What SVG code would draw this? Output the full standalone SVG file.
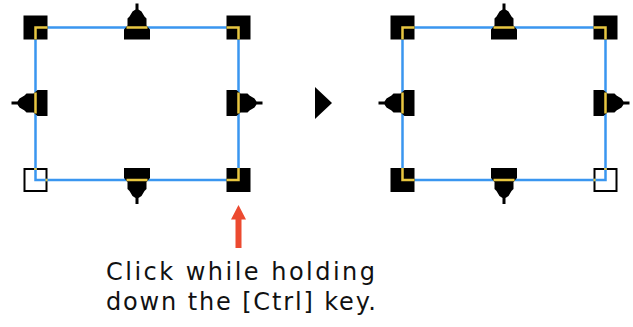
<svg xmlns="http://www.w3.org/2000/svg" xmlns:xlink="http://www.w3.org/1999/xlink" width="633" height="327" viewBox="0 0 633 327">
<style>
.frame{fill:none;stroke:#3a96f0;stroke-width:2.5}
.blk{fill:#000}
.open{fill:#fff;stroke:#000;stroke-width:2}
.yl{fill:none;stroke:#e8c640;stroke-width:2.5}
.ydot{fill:#e8c640}
.lbl{font-family:"DejaVu Sans","Liberation Sans",sans-serif;font-size:24px;fill:#111}
</style>
<defs>
<g id="handle">
<path class="blk" d="M-1.5,-24 H1.5 V-18 L4.5,-16 L7.5,-11 L9.5,-9 L9.5,-2 L13,2 V12 H-13 V2 L-9.5,-2 V-9 L-7.5,-11 L-4.5,-16 L-1.5,-18 Z"/>
<line class="yl" x1="-10.5" y1="0" x2="10.5" y2="0"/>
</g>
</defs>

<g id="before">
  <rect class="open" x="24.5" y="169" width="22" height="22"/>
  <rect class="frame" x="35.5" y="27.5" width="203" height="152.5"/>
  <g id="b-tl"><rect class="blk" x="23.5" y="15.5" width="24" height="24"/><polyline class="yl" points="47.5,27.5 35.5,27.5 35.5,39.5"/></g>
  <g id="b-tr"><rect class="blk" x="226.5" y="15.5" width="24" height="24"/><polyline class="yl" points="226.5,27.5 238.5,27.5 238.5,39.5"/></g>
  <g id="b-br"><rect class="blk" x="226.5" y="168" width="24" height="24"/><polyline class="yl" points="226.5,180 238.5,180 238.5,168"/></g>
  <g id="b-bl"><rect class="ydot" x="34.3" y="168" width="2.4" height="2"/><rect class="ydot" x="45.5" y="178.8" width="2" height="2.4"/></g>
  <use id="b-top" xlink:href="#handle" transform="translate(137,27.5)"/>
  <use id="b-bottom" xlink:href="#handle" transform="translate(137,180) rotate(180)"/>
  <use id="b-left" xlink:href="#handle" transform="translate(35.5,103) rotate(-90)"/>
  <use id="b-right" xlink:href="#handle" transform="translate(238.5,103) rotate(90)"/>
</g>

<g id="after">
  <rect class="open" x="594.5" y="169" width="22" height="22"/>
  <rect class="frame" x="402.5" y="27.5" width="203" height="152.5"/>
  <g id="a-tl"><rect class="blk" x="390.5" y="15.5" width="24" height="24"/><polyline class="yl" points="414.5,27.5 402.5,27.5 402.5,39.5"/></g>
  <g id="a-tr"><rect class="blk" x="593.5" y="15.5" width="24" height="24"/><polyline class="yl" points="593.5,27.5 605.5,27.5 605.5,39.5"/></g>
  <g id="a-bl"><rect class="blk" x="390.5" y="168" width="24" height="24"/><polyline class="yl" points="414.5,180 402.5,180 402.5,168"/></g>
  <g id="a-br"><rect class="ydot" x="604.3" y="168" width="2.4" height="2"/><rect class="ydot" x="593.5" y="178.8" width="2" height="2.4"/></g>
  <use id="a-top" xlink:href="#handle" transform="translate(504,27.5)"/>
  <use id="a-bottom" xlink:href="#handle" transform="translate(504,180) rotate(180)"/>
  <use id="a-left" xlink:href="#handle" transform="translate(402.5,103) rotate(-90)"/>
  <use id="a-right" xlink:href="#handle" transform="translate(605.5,103) rotate(90)"/>
</g>

<g id="connectors">
  <polygon id="transition" class="blk" points="315,87 332,103 315,119"/>
  <polygon id="click-arrow" fill="#ec4a30" points="238.5,205 246,219.5 241.5,219.5 241.5,248 235.5,248 235.5,219.5 231,219.5"/>
</g>

<g id="caption">
  <text class="lbl" x="106" y="280" textLength="269" lengthAdjust="spacing">Click while holding</text>
  <text class="lbl" x="106" y="310" textLength="270" lengthAdjust="spacing">down the [Ctrl] key.</text>
</g>
</svg>
